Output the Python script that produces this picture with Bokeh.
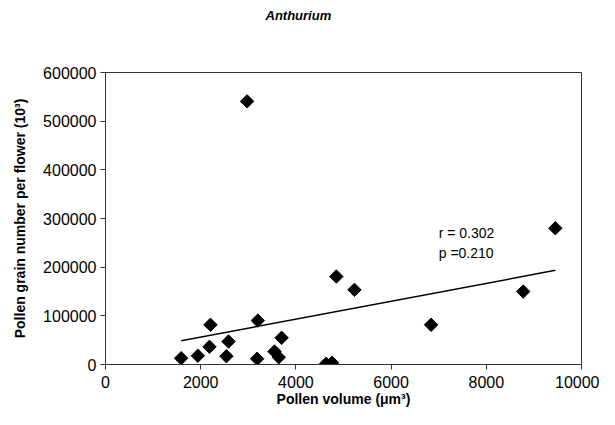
import numpy as np
from bokeh.plotting import figure
from bokeh.models import Range1d, FixedTicker, NumeralTickFormatter, Label, Title
from bokeh.embed import file_html
from bokeh.resources import INLINE

# Data
pollen_volume = [1590, 1940, 2185, 2205, 2540, 2585, 2975, 3185, 3200, 3550,
                 3640, 3700, 4635, 4760, 4850, 5230, 6840, 8775, 9450]
pollen_number = [13000, 18000, 36300, 81500, 17000, 47200, 540700, 11700, 90300, 26700,
                 15000, 54800, 1400, 3500, 180700, 153400, 81500, 150000, 280000]
x_ticks = [0, 2000, 4000, 6000, 8000, 10000]
y_ticks = [0, 100000, 200000, 300000, 400000, 500000, 600000]
stats_text = ["r = 0.302", "p =0.210"]
title_text = "Anthurium"

FONT = "Liberation Sans"

p = figure(width=599, height=409, output_backend="svg", toolbar_location=None,
           x_range=Range1d(0, 10000), y_range=Range1d(0, 600000),
           min_border_left=105, min_border_right=18, min_border_top=10, min_border_bottom=45)

# spacer (nearest the frame) then the real title above it
p.add_layout(Title(text=" ", text_font=FONT, text_font_size="30px"), "above")
p.add_layout(Title(text=title_text, text_font=FONT, text_font_size="13px",
                   text_font_style="bold italic", align="left", offset=160,
                   text_color="black"), "above")

p.grid.visible = False
p.outline_line_color = "#333333"
p.outline_line_width = 1
p.background_fill_color = "white"
p.border_fill_color = "white"

for ax in (p.xaxis[0], p.yaxis[0]):
    ax.axis_line_color = "#333333"
    ax.major_tick_line_color = "#333333"
    ax.major_tick_in = 0
    ax.major_tick_out = 5
    ax.minor_tick_line_color = None
    ax.major_label_text_font = FONT
    ax.major_label_text_font_size = "16px"
    ax.major_label_text_color = "black"
    ax.axis_label_text_font = FONT
    ax.axis_label_text_font_size = "14px"
    ax.axis_label_text_font_style = "bold"
    ax.axis_label_text_color = "black"

p.xaxis.ticker = FixedTicker(ticks=x_ticks)
p.yaxis.ticker = FixedTicker(ticks=y_ticks)
p.yaxis.formatter = NumeralTickFormatter(format="0")
p.xaxis.formatter = NumeralTickFormatter(format="0")
p.xaxis.axis_label = "Pollen volume (\u03bcm\u00b3)"
p.yaxis.axis_label = "Pollen grain number per flower (10\u00b3)"
p.yaxis.major_label_standoff = 4
p.xaxis.major_label_standoff = 6
p.yaxis.axis_label_standoff = 12
p.xaxis.axis_label_standoff = 0

# Linear regression line
xv = np.array(pollen_volume, dtype=float)
yv = np.array(pollen_number, dtype=float)
slope, intercept = np.polyfit(xv, yv, 1)
fx = np.array([xv.min(), xv.max()])
p.line(fx, slope * fx + intercept, line_color="black", line_width=1.5)

p.scatter(pollen_volume, pollen_number, marker="square", angle=np.pi / 4, size=9.5,
          fill_color="black", line_color="black")

p.add_layout(Label(x=7000, y=271000, text=stats_text[0], text_font=FONT,
                   text_font_size="14px", text_baseline="middle", text_color="black"))
p.add_layout(Label(x=7000, y=230000, text=stats_text[1], text_font=FONT,
                   text_font_size="14px", text_baseline="middle", text_color="black"))

open("out.html", "w").write(file_html(p, INLINE))
